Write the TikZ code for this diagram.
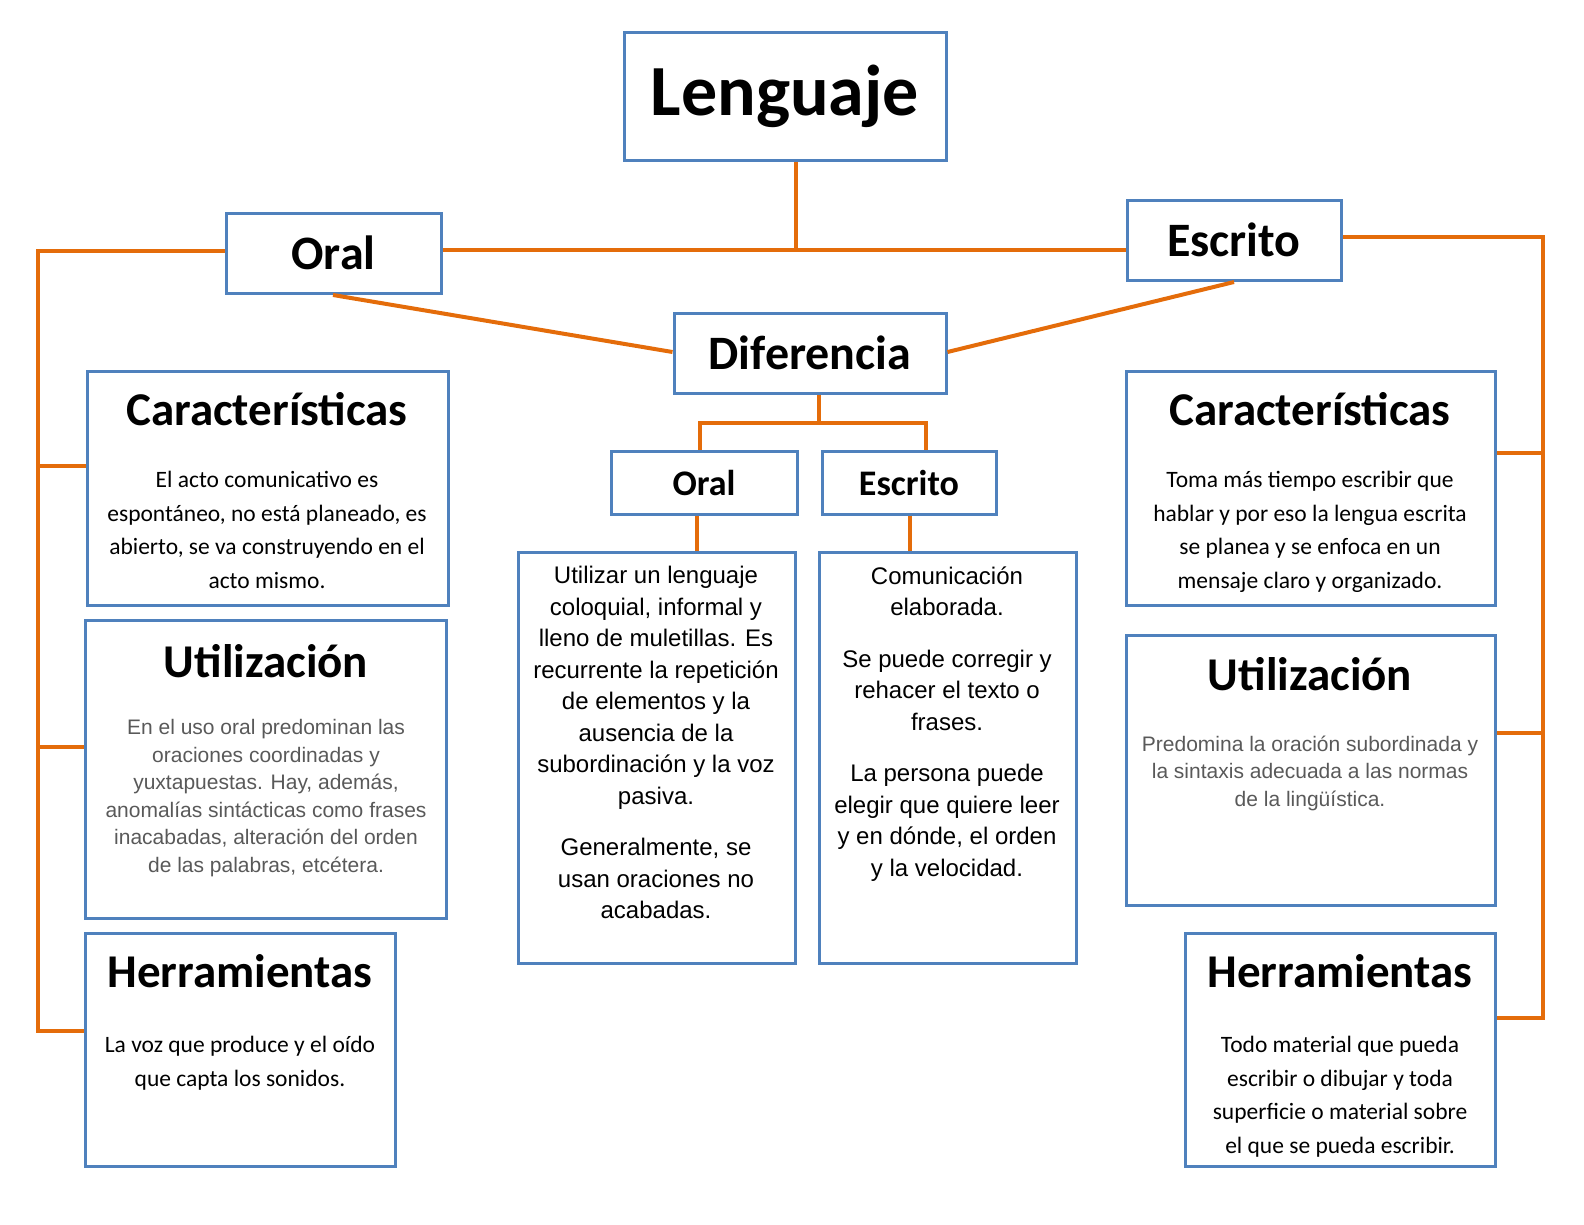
\documentclass[tikz,border=0pt]{standalone}
\usepackage{fontspec}
\setmainfont{Carlito}
\newfontfamily\arialf{Liberation Sans}
\definecolor{bl}{HTML}{4F81BD}
\definecolor{org}{HTML}{E46C0A}
\definecolor{gr}{HTML}{595959}
\newcommand\bx[5]{\node[box,minimum width=#4-#2,minimum height=#5-#3] (#1) at ({(#2+#4)/2},{(#3+#5)/2}) {};}
\begin{document}
\begin{tikzpicture}[x=1pt,y=-1pt,
 box/.style={draw=bl,line width=3pt,inner sep=0pt},
 con/.style={draw=org,line width=4pt},
 ttl/.style={font=\bfseries\fontsize{47}{50}\selectfont,anchor=north},
 cal/.style={align=center,font=\fontsize{23.5}{33.5}\selectfont,anchor=north},
 ari/.style={align=center,text=gr,font=\arialf\fontsize{21}{27.5}\selectfont,anchor=north},
 arb/.style={align=center,font=\arialf\fontsize{24}{31.5}\selectfont,anchor=north}]
\useasboundingbox (0,0) rectangle (1584,1224);
\bx{len}{624}{32}{946}{160}
\bx{oral}{226}{213}{441}{293}
\bx{esc}{1127}{200}{1341}{280}
\bx{dif}{674}{313}{946}{393}
\bx{os}{611}{451}{797}{514}
\bx{es}{822}{451}{996}{514}
\bx{lc}{87}{371}{448}{605}
\bx{lu}{85}{620}{446}{918}
\bx{lh}{85}{933}{395}{1166}
\bx{mo}{518}{552}{795}{963}
\bx{me}{819}{552}{1076}{963}
\bx{rc}{1126}{371}{1495}{605}
\bx{ru}{1126}{635}{1495}{905}
\bx{rh}{1185}{933}{1495}{1166}
\node[font=\bfseries\fontsize{72}{76}\selectfont] (tlen) at (len) {Lenguaje};
\node[font=\bfseries\fontsize{48}{52}\selectfont] (toral) at (oral) {Oral};
\node[font=\bfseries\fontsize{48}{52}\selectfont] (tesc) at (esc) {Escrito};
\node[font=\bfseries\fontsize{48}{52}\selectfont] (tdif) at (dif) {Diferencia};
\node[font=\bfseries\fontsize{36}{40}\selectfont] (tos) at (os) {Oral};
\node[font=\bfseries\fontsize{36}{40}\selectfont] (tes) at (es) {Escrito};
\node[ttl] (t1) at (267,389) {Características};
\node[cal] (b1) at (267,468) {El acto comunicativo es\\espontáneo, no está planeado, es\\abierto, se va construyendo en el\\acto mismo.};
\node[ttl] (t2) at (266,641) {Utilización};
\node[ari] (b2) at (266,716) {En el uso oral predominan las\\oraciones coordinadas y\\yuxtapuestas. Hay, además,\\anomalías sintácticas como frases\\inacabadas, alteración del orden\\de las palabras, etcétera.};
\node[ttl] (t3) at (240,951) {Herramientas};
\node[cal] (b3) at (240,1033) {La voz que produce y el oído\\que capta los sonidos.};
\node[ttl] (t4) at (1310,389) {Características};
\node[cal] (b4) at (1310,468) {Toma más tiempo escribir que\\hablar y por eso la lengua escrita\\se planea y se enfoca en un\\mensaje claro y organizado.};
\node[ttl] (t5) at (1310,654) {Utilización};
\node[ari] (b5) at (1310,732) {Predomina la oración subordinada y\\la sintaxis adecuada a las normas\\de la lingüística.};
\node[ttl] (t6) at (1340,951) {Herramientas};
\node[cal] (b6) at (1340,1033) {Todo material que pueda\\escribir o dibujar y toda\\superficie o material sobre\\el que se pueda escribir.};
\node[arb] (b7) at (656,563) {Utilizar un lenguaje\\coloquial, informal y\\lleno de muletillas. Es\\recurrente la repetición\\de elementos y la\\ausencia de la\\subordinación y la voz\\pasiva.\\[20pt]Generalmente, se\\usan oraciones no\\acabadas.};
\node[arb] (b8) at (947,563) {Comunicación\\elaborada.\\[20pt]Se puede corregir y\\rehacer el texto o\\frases.\\[20pt]La persona puede\\elegir que quiere leer\\y en dónde, el orden\\y la velocidad.};
% connectors
\coordinate (j) at (796,250);
\draw[con] (len.south -| j) -- (j);
\draw[con] (oral.east |- j) -- (esc.west |- j);
\draw[con] (oral.west |- 0,251) -- (38,251) -- (38,1031) -- (lh.west |- 0,1031);
\draw[con] (38,466) -- (lc.west |- 0,466);
\draw[con] (38,747) -- (lu.west |- 0,747);
\draw[con] (esc.east |- 0,237) -- (1543,237) -- (1543,1018) -- (rh.east |- 0,1018);
\draw[con] (1543,453) -- (rc.east |- 0,453);
\draw[con] (1543,733) -- (ru.east |- 0,733);
\draw[con] (333,295) -- (dif.west |- 0,352);
\draw[con] (1234,282) -- (dif.east |- 0,352);
\draw[con] (dif.south -| 819,0) -- (819,423);
\draw[con] (os.north -| 700,0) -- (700,423) -- (926,423) -- (es.north -| 926,0);
\draw[con] (os.south -| 697,0) -- (mo.north -| 697,0);
\draw[con] (es.south -| 910,0) -- (me.north -| 910,0);
\end{tikzpicture}
\end{document}
